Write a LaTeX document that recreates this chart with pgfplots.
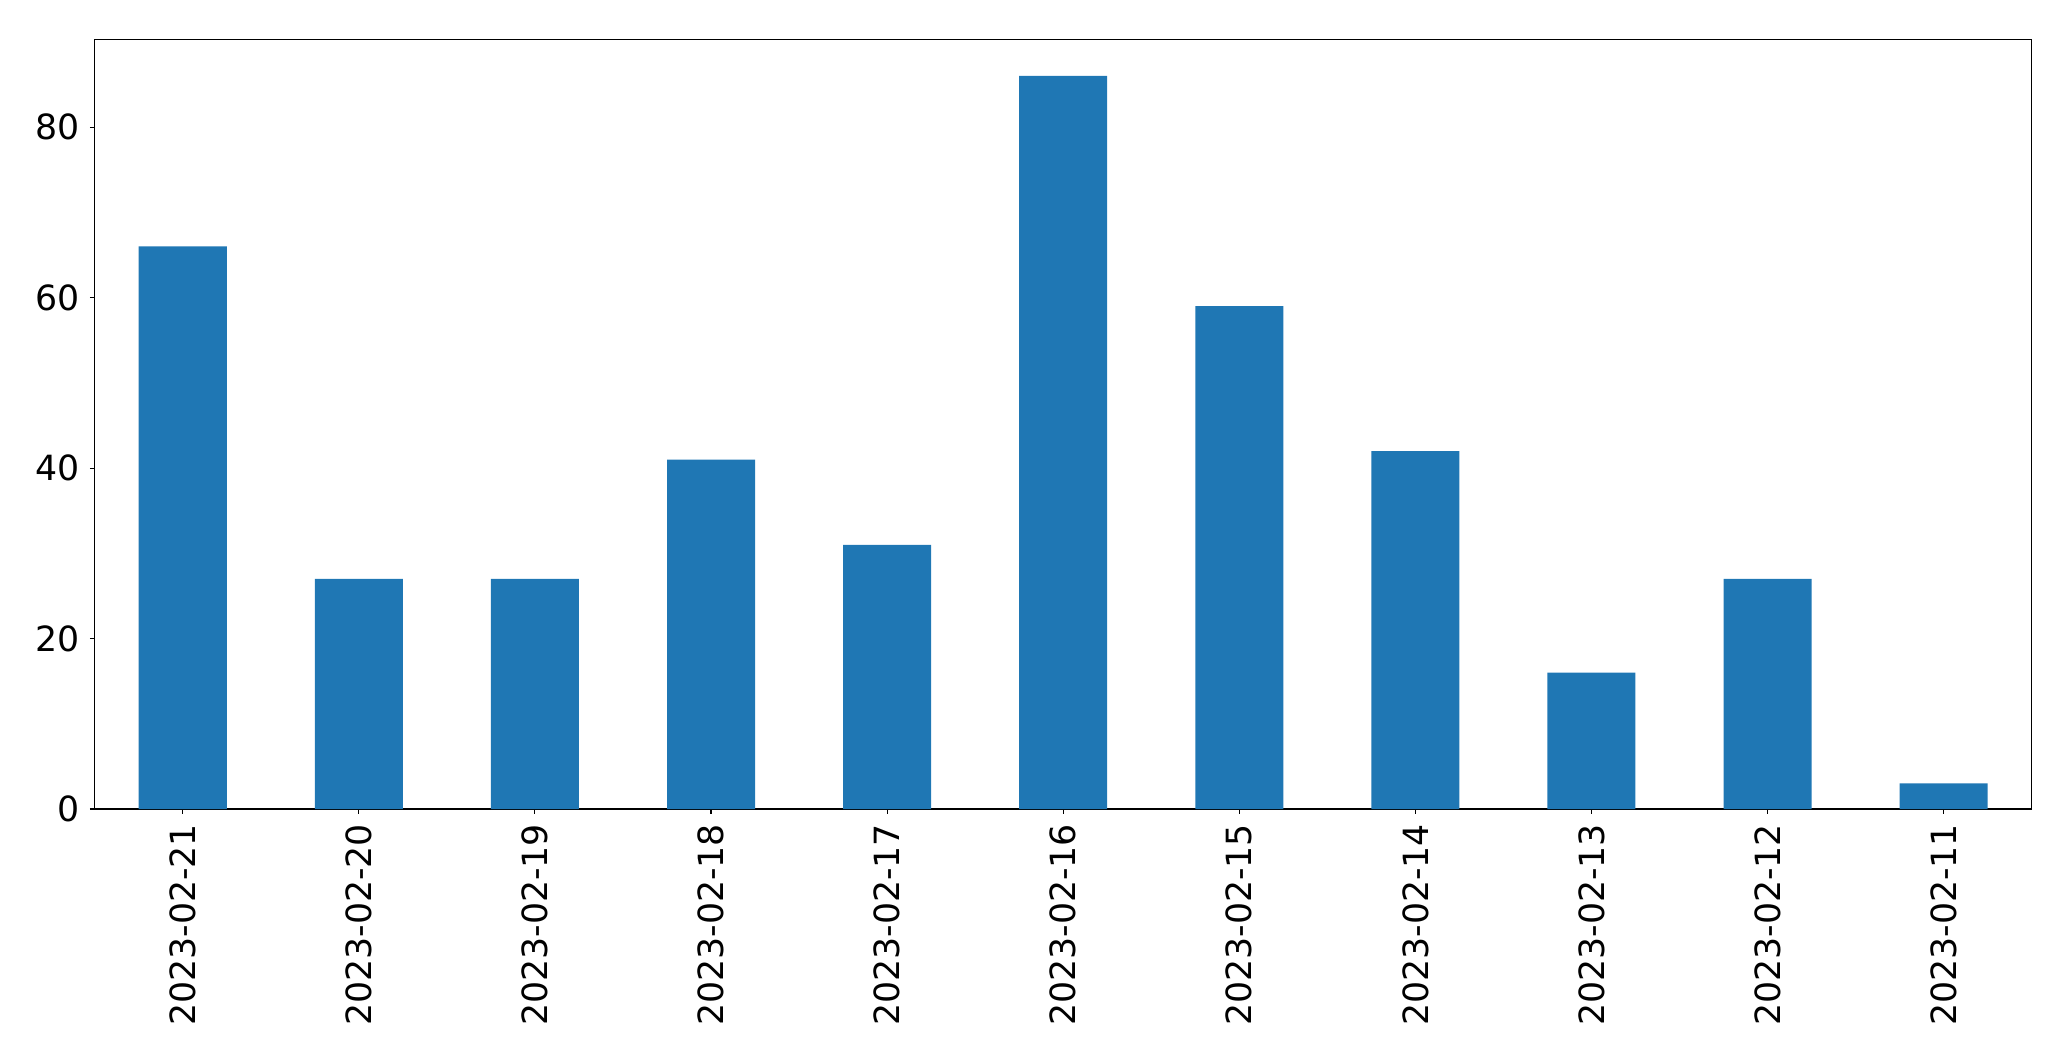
\documentclass[border=0pt]{standalone}
\usepackage{fontspec}
\setmainfont{DejaVu Sans}
\usepackage{pgfplots}
\pgfplotsset{compat=1.18}
\definecolor{mplblue}{HTML}{1F77B4}
\begin{document}
\begin{tikzpicture}
\path[use as bounding box] (-68.2pt,-181.4pt) rectangle (1422.9pt,582.5pt);
\begin{axis}[
  at={(0,0)}, anchor=south west,
  scale only axis, width=1394.6pt, height=554.2pt,
  xmin=-0.5, xmax=10.5, ymin=0, ymax=90.3,
  axis line style={line width=0.8pt},
  tick style={line width=0.8pt, black},
  tick align=outside, major tick length=3.5pt,
  xtick=data,
  xticklabels={2023-02-21,2023-02-20,2023-02-19,2023-02-18,2023-02-17,2023-02-16,2023-02-15,2023-02-14,2023-02-13,2023-02-12,2023-02-11},
  ytick={0,20,40,60,80},
  xtick pos=bottom, ytick pos=left,
  /pgf/number format/assume math mode=true,
  tick label style={font=\fontsize{25pt}{29pt}\selectfont},
  xticklabel style={rotate=90, anchor=east, inner sep=0pt},
  yticklabel style={anchor=east, inner sep=0pt},
  xticklabel shift=7pt, yticklabel shift=7pt,
  ybar, bar width=0.5,
]
\addplot[fill=mplblue, draw=none] coordinates {
(0,66) (1,27) (2,27) (3,41) (4,31) (5,86) (6,59) (7,42) (8,16) (9,27) (10,3)
};
\end{axis}
\end{tikzpicture}
\end{document}
